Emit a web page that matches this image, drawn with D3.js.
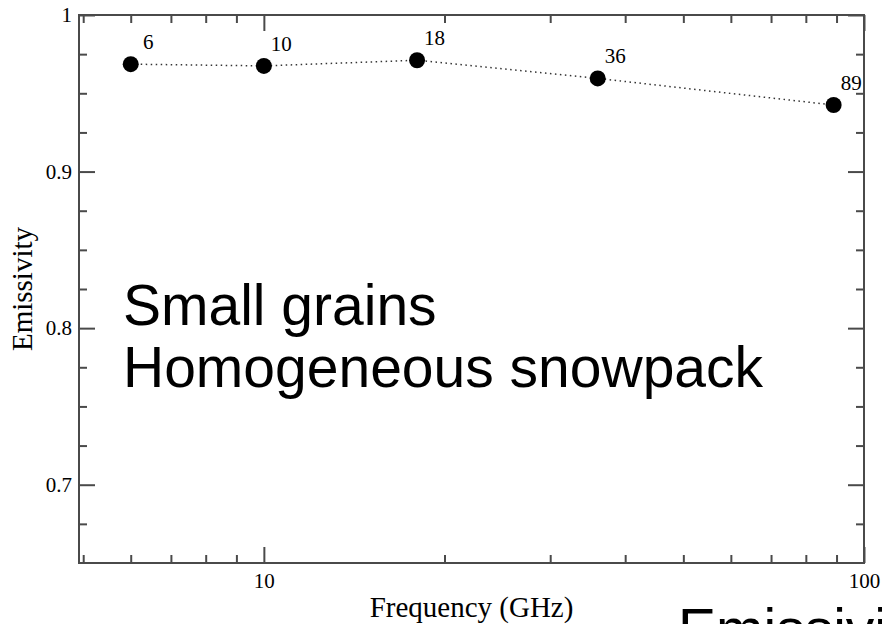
<!DOCTYPE html>
<html>
<head>
<meta charset="utf-8">
<script src="https://cdn.jsdelivr.net/npm/d3@7"></script>
<style>
  body { margin: 0; background: #fff; overflow: hidden; }
  svg { display: block; }
  .tick text { font-family: "Liberation Serif", serif; font-size: 21px; fill: #000; }
  .tick line { stroke: #4a4a4a; stroke-width: 2; }
</style>
</head>
<body>
<svg id="chart" width="882" height="624"></svg>
<script>

// frequency (GHz) and emissivity
var freqs = [6, 10, 18, 36, 89];
var emissivity = [0.9686, 0.9675, 0.9711, 0.9595, 0.9425];
var pointLabels = ["6", "10", "18", "36", "89"];

var xMajor = [10, 100];
var xMinor = [5, 6, 7, 8, 9, 20, 30, 40, 50, 60, 70, 80, 90];
var yMajor = [0.7, 0.8, 0.9, 1];
var yMinor = [0.675, 0.725, 0.75, 0.775, 0.825, 0.85, 0.875, 0.925, 0.95, 0.975];

var textLines = ["Small grains", "Homogeneous snowpack"];

var margin = {top: 15, right: 18, bottom: 61, left: 79};
var svg = d3.select("svg#chart");

var width = 882 - margin.left - margin.right;
var height = 624 - margin.top - margin.bottom;

var x = d3.scaleLog().domain([4.92, 100]).range([0, width]);
var y = d3.scaleLinear().domain([0.65, 1]).range([height, 0]);

var g = svg.append("g")
  .attr("transform", "translate(" + margin.left + "," + margin.top + ")");

var fmt = d3.format("~g");

// bottom
g.append("g")
  .attr("transform", "translate(0," + height + ")")
  .call(d3.axisBottom(x).tickValues(xMajor).tickSize(-16).tickPadding(10).tickFormat(fmt))
  .call(function(a) { a.select(".domain").remove(); });
g.append("g")
  .attr("transform", "translate(0," + height + ")")
  .call(d3.axisBottom(x).tickValues(xMinor).tickSize(-8).tickFormat(""))
  .call(function(a) { a.select(".domain").remove(); });

// top
g.append("g")
  .call(d3.axisTop(x).tickValues(xMajor).tickSize(-16).tickFormat(""))
  .call(function(a) { a.select(".domain").remove(); });
g.append("g")
  .call(d3.axisTop(x).tickValues(xMinor).tickSize(-8).tickFormat(""))
  .call(function(a) { a.select(".domain").remove(); });

// left
g.append("g")
  .call(d3.axisLeft(y).tickValues(yMajor).tickSize(-16).tickPadding(7).tickFormat(fmt))
  .call(function(a) { a.select(".domain").remove(); });
g.append("g")
  .call(d3.axisLeft(y).tickValues(yMinor).tickSize(-8).tickFormat(""))
  .call(function(a) { a.select(".domain").remove(); });

// right
g.append("g")
  .attr("transform", "translate(" + width + ",0)")
  .call(d3.axisRight(y).tickValues(yMajor).tickSize(-16).tickFormat(""))
  .call(function(a) { a.select(".domain").remove(); });
g.append("g")
  .attr("transform", "translate(" + width + ",0)")
  .call(d3.axisRight(y).tickValues(yMinor).tickSize(-8).tickFormat(""))
  .call(function(a) { a.select(".domain").remove(); });

// frame
g.append("rect")
  .attr("width", width)
  .attr("height", height)
  .attr("fill", "none")
  .attr("stroke", "#4a4a4a")
  .attr("stroke-width", 2);

// axis titles
g.append("text")
  .attr("x", width / 2)
  .attr("y", height + 54)
  .attr("text-anchor", "middle")
  .style("font-family", "Liberation Serif, serif")
  .style("font-size", "29px")
  .text("Frequency (GHz)");

g.append("text")
  .attr("transform", "translate(" + (31.5 - margin.left) + "," + (height / 2) + ") rotate(-90)")
  .attr("text-anchor", "middle")
  .style("font-family", "Liberation Serif, serif")
  .style("font-size", "29px")
  .text("Emissivity");

// data
var pts = freqs.map(function(f, i) { return [f, emissivity[i]]; });

var line = d3.line()
  .x(function(d) { return x(d[0]); })
  .y(function(d) { return y(d[1]); });

g.append("path")
  .datum(pts)
  .attr("d", line)
  .attr("fill", "none")
  .attr("stroke", "#333")
  .attr("stroke-width", 1.5)
  .attr("stroke-dasharray", "1.5,3.5");

g.selectAll(".pt")
  .data(pts)
  .enter().append("circle")
  .attr("class", "pt")
  .attr("cx", function(d) { return x(d[0]); })
  .attr("cy", function(d) { return y(d[1]); })
  .attr("r", 8)
  .attr("fill", "#000");

g.selectAll(".plabel")
  .data(pts)
  .enter().append("text")
  .attr("class", "plabel")
  .attr("x", function(d) { return x(d[0]) + 17.5; })
  .attr("y", function(d) { return y(d[1]) - 15; })
  .attr("text-anchor", "middle")
  .style("font-family", "Liberation Serif, serif")
  .style("font-size", "21px")
  .text(function(d, i) { return pointLabels[i]; });

// big annotation text
svg.selectAll(".note")
  .data(textLines)
  .enter().append("text")
  .attr("class", "note")
  .attr("x", 123)
  .attr("y", function(d, i) { return 325 + i * 62; })
  .style("font-family", "Liberation Sans, Arial, sans-serif")
  .style("font-size", "57px")
  .text(function(d) { return d; });

svg.append("text")
  .attr("x", 678)
  .attr("y", 649)
  .style("font-family", "Liberation Sans, Arial, sans-serif")
  .style("font-size", "57px")
  .text("Emissivity");

</script>
</body>
</html>
